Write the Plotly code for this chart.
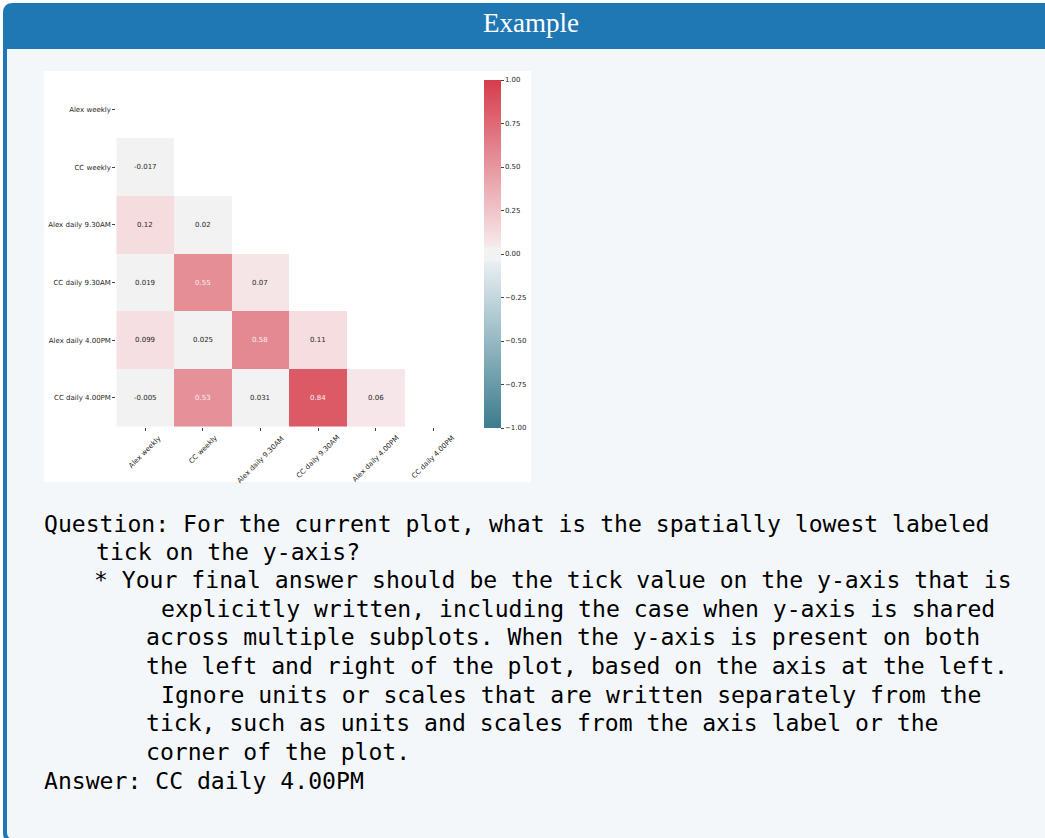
import plotly.graph_objects as go

W, H = 1045, 838

# ── data ─────────────────────────────────────────────────────────
labels = ["Alex weekly", "CC weekly", "Alex daily 9.30AM", "CC daily 9.30AM",
          "Alex daily 4.00PM", "CC daily 4.00PM"]

# lower triangle of the correlation matrix (diagonal and above are masked)
row_alex_weekly = []
row_cc_weekly = [-0.017]
row_alex_930 = [0.12, 0.02]
row_cc_930 = [0.019, 0.55, 0.07]
row_alex_400 = [0.099, 0.025, 0.58, 0.11]
row_cc_400 = [-0.005, 0.53, 0.031, 0.84, 0.06]

cbar_ticks = [1.0, 0.75, 0.5, 0.25, 0.0, -0.25, -0.5, -0.75, -1.0]

header_text = "Example"
question_lines = [
    "Question: For the current plot, what is the spatially lowest labeled",
    "tick on the y-axis?",
    "* Your final answer should be the tick value on the y-axis that is",
    "explicitly written, including the case when y-axis is shared",
    "across multiple subplots. When the y-axis is present on both",
    "the left and right of the plot, based on the axis at the left.",
    "Ignore units or scales that are written separately from the",
    "tick, such as units and scales from the axis label or the",
    "corner of the plot.",
    "Answer: CC daily 4.00PM",
]
# left edge of each text line (px) and its baseline (px)
line_x = [43, 95, 93, 160, 145, 145, 160, 145, 145, 43]
line_base = [531, 559, 587, 616, 644, 673, 702, 730, 759, 788]

# seaborn diverging_palette(220, 10, sep=10) look-alike: flat grey band round 0
cmap = [[0.0, "#3b7c8e"], [0.48, "#eaf0f3"], [0.481, "#f2f2f2"],
        [0.519, "#f2f2f2"], [0.52, "#f7eaec"], [1.0, "#d63c4b"]]

BLUE = "#1f77b4"
BODY = "#f4f7fa"
TICK_FONT = dict(family="DejaVu Sans", size=7, color="#262626")


def px_x(x):
    return x / W


def px_y(y):
    return 1 - y / H


def path(points):
    # points are (cmd, x, y, ...) in pixels -> svg path in paper coords
    out = []
    for p in points:
        cmd, coords = p[0], p[1:]
        xy = []
        for i in range(0, len(coords), 2):
            xy.append(f"{px_x(coords[i]):.5f},{px_y(coords[i + 1]):.5f}")
        out.append(cmd + " " + " ".join(xy))
    return " ".join(out) + " Z"


rows = [row_alex_weekly, row_cc_weekly, row_alex_930, row_cc_930, row_alex_400, row_cc_400]
z = [[r[j] if j < len(r) else None for j in range(len(labels))] for r in rows]

fig = go.Figure()
fig.add_trace(go.Heatmap(
    z=z, x=labels, y=labels,
    zmin=-1, zmax=1, colorscale=cmap,
    hoverinfo="skip",
    colorbar=dict(
        x=px_x(484), xanchor="left", xpad=0,
        y=px_y(428), yanchor="bottom", ypad=0,
        len=(428 - 80) / H, lenmode="fraction",
        thickness=17, outlinewidth=0,
        tickvals=cbar_ticks, tickformat=".2f",
        ticks="outside", ticklen=3, tickwidth=1, tickcolor="#444",
        tickfont=TICK_FONT,
    ),
))

# box + header + plot background
shapes = [
    dict(type="path", xref="paper", yref="paper", layer="below",
         path=path([("M", 3, 13), ("Q", 3, 3, 13, 3), ("L", 1070, 3), ("L", 1070, 842),
                    ("L", 12, 842), ("Q", 3, 842, 3, 833)]),
         fillcolor=BLUE, line=dict(width=0)),
    dict(type="path", xref="paper", yref="paper", layer="below",
         path=path([("M", 7, 49), ("L", 1070, 49), ("L", 1070, 839),
                    ("L", 14, 839), ("Q", 7, 839, 7, 832)]),
         fillcolor=BODY, line=dict(width=0)),
    dict(type="rect", xref="paper", yref="paper", layer="below",
         x0=px_x(44), x1=px_x(531), y0=px_y(482), y1=px_y(71),
         fillcolor="white", line=dict(width=0)),
]

annotations = []
for i, r in enumerate(rows):
    for j, v in enumerate(r):
        annotations.append(dict(
            x=labels[j], y=labels[i], xref="x", yref="y",
            text=format(v, ".2g"), showarrow=False,
            font=dict(family="DejaVu Sans", size=7,
                      color="#fbeff0" if v > 0.5 else "#262626"),
        ))

# rotated x labels centred under their ticks (matplotlib style)
for lab in labels:
    annotations.append(dict(
        x=lab, xref="x", y=px_y(433), yref="paper",
        text=lab, showarrow=False, textangle=-45,
        xanchor="center", yanchor="top", borderpad=0,
        font=TICK_FONT,
    ))

annotations.append(dict(
    x=px_x(531), y=px_y(23), xref="paper", yref="paper",
    text=header_text, showarrow=False, xanchor="center", yanchor="middle",
    font=dict(family="Liberation Serif", size=27, color="white"),
))

for txt, x0, b in zip(question_lines, line_x, line_base):
    annotations.append(dict(
        x=px_x(x0), y=px_y(b - 7), xref="paper", yref="paper",
        text=txt, showarrow=False, xanchor="left", yanchor="middle",
        borderpad=0,
        font=dict(family="DejaVu Sans Mono", size=23.1, color="black"),
    ))

fig.update_layout(
    width=W, height=H,
    margin=dict(l=0, r=0, t=0, b=0),
    paper_bgcolor="white",
    plot_bgcolor="rgba(0,0,0,0)",
    showlegend=False,
    shapes=shapes,
    annotations=annotations,
    xaxis=dict(domain=[px_x(116.3), px_x(462.3)], type="category",
               categoryorder="array", categoryarray=labels,
               showticklabels=False, ticks="outside", ticklen=3, tickcolor="#444",
               showgrid=False, zeroline=False, showline=False),
    yaxis=dict(domain=[px_y(426.7), px_y(80.7)], type="category",
               categoryorder="array", categoryarray=labels, autorange="reversed",
               ticks="outside", ticklen=3, tickcolor="#444",
               tickfont=TICK_FONT, showgrid=False, zeroline=False, showline=False),
)

# drop the browser's default 8px body margin so the figure sits at (0, 0)
fig.write_html("out.html", config={"displayModeBar": False},
               post_script="document.body.style.margin='0';document.body.style.overflow='hidden';")
